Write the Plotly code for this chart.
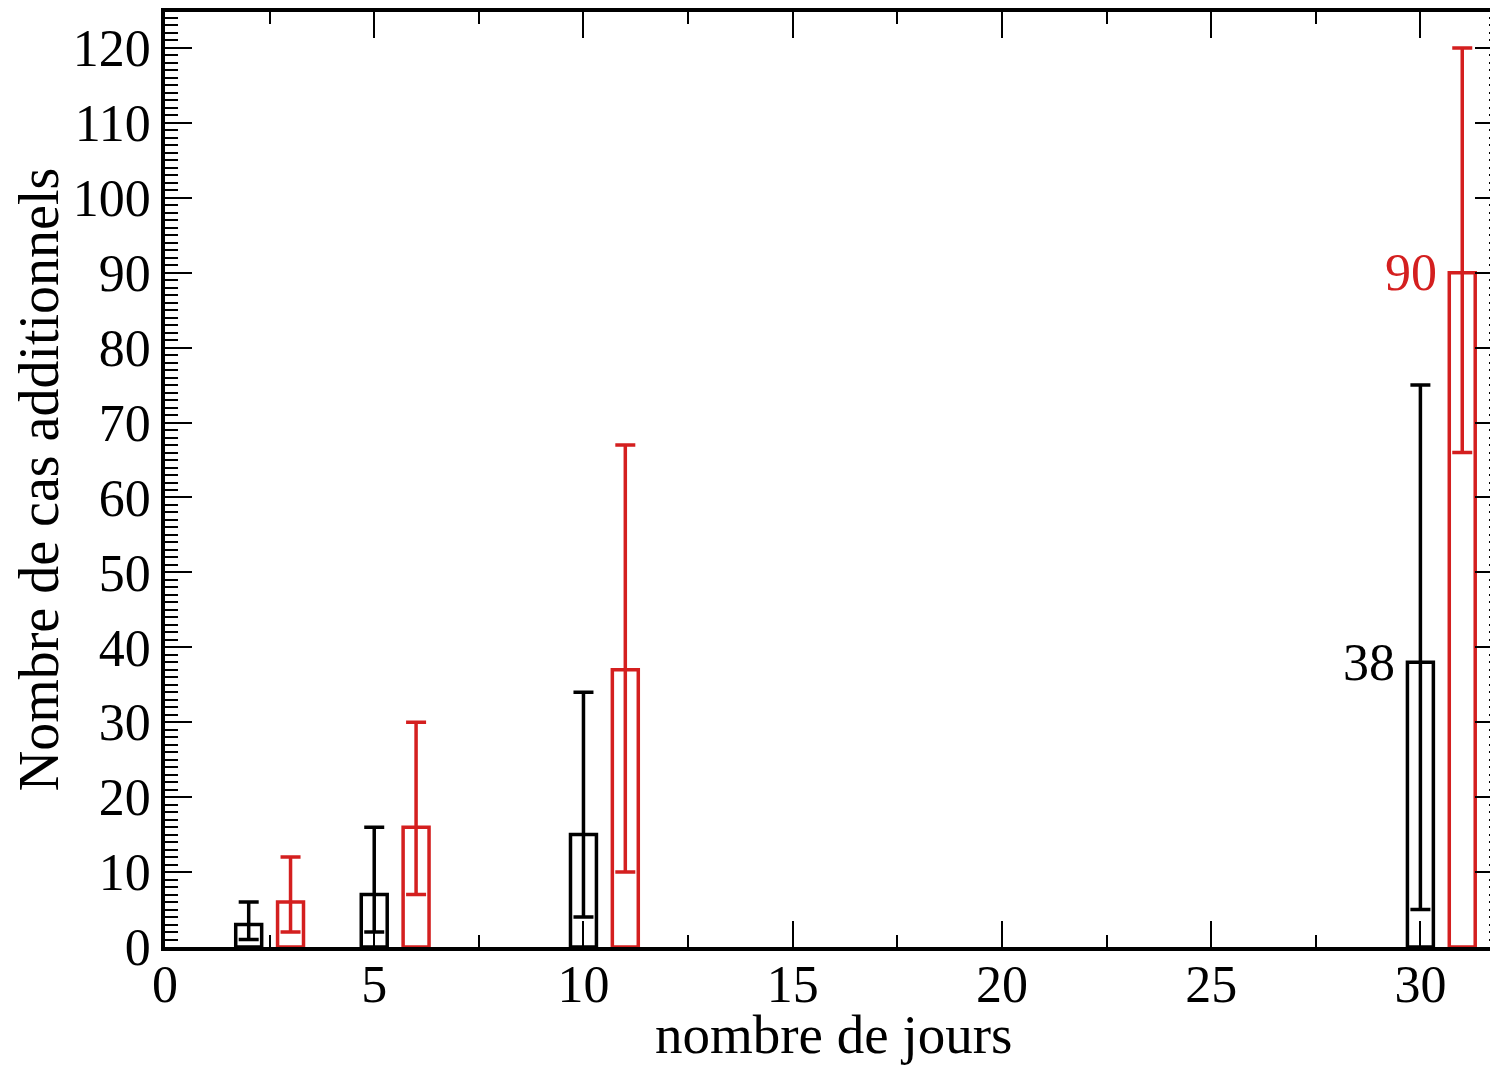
import plotly.graph_objects as go

# Data
days_black = [2, 5, 10, 30]
vals_black = [3, 7, 15, 38]
low_black = [1, 2, 4, 5]
high_black = [6, 16, 34, 75]

days_red = [3, 6, 11, 31]
vals_red = [6, 16, 37, 90]
low_red = [2, 7, 10, 66]
high_red = [12, 30, 67, 120]

x_ticks = [0, 5, 10, 15, 20, 25, 30]
y_ticks = list(range(0, 121, 10))

RED = "#d41f1f"
FONT = "Liberation Serif"

fig = go.Figure()

def add_series(xs, vs, lo, hi, color):
    fig.add_trace(go.Bar(
        x=xs, y=vs, width=0.62,
        marker=dict(color="rgba(0,0,0,0)", line=dict(color=color, width=3.5)),
        error_y=dict(type="data", symmetric=False,
                     array=[h - v for h, v in zip(hi, vs)],
                     arrayminus=[v - l for v, l in zip(vs, lo)],
                     color=color, thickness=3.5, width=10),
        showlegend=False,
    ))

add_series(days_black, vals_black, low_black, high_black, "black")
add_series(days_red, vals_red, low_red, high_red, RED)

fig.add_annotation(x=days_black[3] - 0.36, y=vals_black[3], text=str(vals_black[3]),
                   xanchor="right", yanchor="middle", showarrow=False, xshift=-8,
                   font=dict(family=FONT, size=52, color="black"))
fig.add_annotation(x=days_red[3] - 0.36, y=vals_red[3], text=str(vals_red[3]),
                   xanchor="right", yanchor="middle", showarrow=False, xshift=-8,
                   font=dict(family=FONT, size=52, color=RED))

# x-axis title as annotation (placed closer to tick labels than standoff allows)
fig.add_annotation(x=0.5, y=0, xref="paper", yref="paper", text="nombre de jours",
                   xanchor="center", yanchor="middle", yshift=-87, showarrow=False,
                   font=dict(family=FONT, size=55, color="black"))

axis_common = dict(
    showgrid=False, zeroline=False, showline=True, linecolor="black", linewidth=3.5,
    mirror="allticks", ticks="inside", tickcolor="black", tickwidth=2,
    tickfont=dict(family=FONT, size=52, color="black"),
)

fig.update_layout(
    width=1498, height=1069,
    margin=dict(l=157, r=0, t=4, b=130),
    plot_bgcolor="white", paper_bgcolor="white",
    barmode="overlay",
    xaxis=dict(axis_common, range=[0, 31.95], tickvals=x_ticks, ticklen=26,
               ticklabelstandoff=-11,
               minor=dict(dtick=2.5, tick0=0, ticks="inside", ticklen=12, tickcolor="black", tickwidth=2)),
    yaxis=dict(axis_common, range=[0, 124.8], tickvals=y_ticks, ticklen=27,
               minor=dict(dtick=1, tick0=0, ticks="inside", ticklen=13, tickcolor="black", tickwidth=1.5),
               title=dict(text="Nombre de cas additionnels", font=dict(family=FONT, size=56, color="black"), standoff=4)),
)

fig.write_html("out.html")
